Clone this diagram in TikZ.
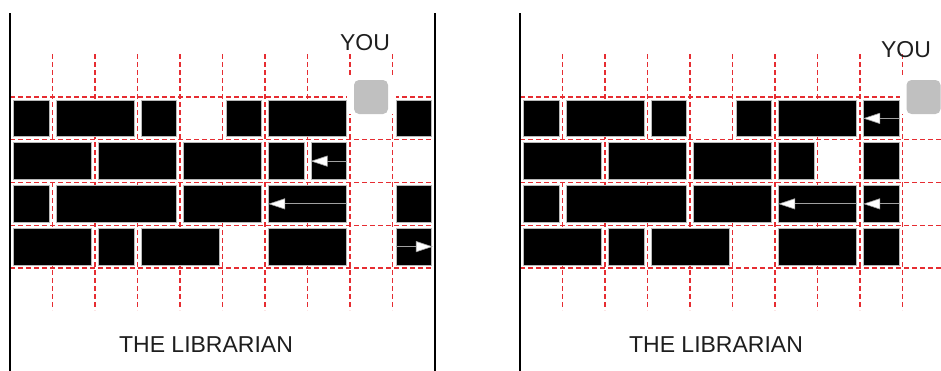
\documentclass[tikz,border=0pt]{standalone}
\usepackage{fontspec}
\setmainfont{Liberation Sans}
\usetikzlibrary{arrows.meta}
\definecolor{gridred}{RGB}{230,45,50}
\definecolor{brickedge}{RGB}{185,185,185}
\definecolor{arrgray}{RGB}{160,160,160}
\definecolor{playergray}{RGB}{192,192,192}
\definecolor{txtgray}{RGB}{30,30,30}
\tikzset{
  gridline/.style={draw=gridred, line width=1.4pt, dash pattern=on 5pt off 3pt},
  brick/.style={draw=brickedge, fill=black, line width=0.8pt, inner sep=0pt, minimum height=36.75pt},
  wall/.style={draw=black, line width=2pt},
  arr/.style={draw=arrgray, line width=1pt, -{Triangle[length=17pt,width=11pt,fill=white,line width=0.6pt]}},
  lbl/.style={text=txtgray, font=\fontsize{23}{23}\selectfont, inner sep=0pt},
  halo/.style={fill=white, draw=none},
  player/.style={fill=playergray, draw=none, rounded corners=5pt}
}
\newcommand\mkbrick[5]{%
  \pgfmathsetmacro\bw{42.5*(#4-#3+1)-7}%
  \pgfmathsetmacro\bcx{#2+42.5*(#3+#4+1)/2}%
  \pgfmathsetmacro\bcy{97+42.75*(#5+0.5)}%
  \node[brick, minimum width=\bw pt] (#1) at (\bcx,\bcy) {};%
}
\begin{document}
\begin{tikzpicture}[x=1pt, y=-1pt]
\useasboundingbox (0,0) rectangle (941,370);
\clip (0,0) rectangle (941,370);
% grids
\foreach \ox/\xe in {10/435, 520/950} {
  \foreach \k in {0,...,4} \draw[gridline] (\ox, 97+42.75*\k) -- (\xe, 97+42.75*\k);
  \foreach \k in {1,...,9} \draw[gridline] (\ox+42.5*\k, 54) -- (\ox+42.5*\k, 310);
}
% player squares with white halo
\fill[halo] (347,78) rectangle (396,114);
\draw[player] (354,80) rectangle (388,114);
\fill[halo] (899.5,78) rectangle (948.5,114);
\draw[player] (906.5,80) rectangle (940.5,114);
% left bricks
\mkbrick{La1}{10}{0}{0}{0}
\mkbrick{La2}{10}{1}{2}{0}
\mkbrick{La3}{10}{3}{3}{0}
\mkbrick{La4}{10}{5}{5}{0}
\mkbrick{La5}{10}{6}{7}{0}
\mkbrick{La6}{10}{9}{9}{0}
\mkbrick{Lb1}{10}{0}{1}{1}
\mkbrick{Lb2}{10}{2}{3}{1}
\mkbrick{Lb3}{10}{4}{5}{1}
\mkbrick{Lb4}{10}{6}{6}{1}
\mkbrick{Lb5}{10}{7}{7}{1}
\mkbrick{Lc1}{10}{0}{0}{2}
\mkbrick{Lc2}{10}{1}{3}{2}
\mkbrick{Lc3}{10}{4}{5}{2}
\mkbrick{Lc4}{10}{6}{7}{2}
\mkbrick{Lc5}{10}{9}{9}{2}
\mkbrick{Ld1}{10}{0}{1}{3}
\mkbrick{Ld2}{10}{2}{2}{3}
\mkbrick{Ld3}{10}{3}{4}{3}
\mkbrick{Ld4}{10}{6}{7}{3}
\mkbrick{Ld5}{10}{9}{9}{3}
% right bricks
\mkbrick{Ra1}{520}{0}{0}{0}
\mkbrick{Ra2}{520}{1}{2}{0}
\mkbrick{Ra3}{520}{3}{3}{0}
\mkbrick{Ra4}{520}{5}{5}{0}
\mkbrick{Ra5}{520}{6}{7}{0}
\mkbrick{Ra6}{520}{8}{8}{0}
\mkbrick{Rb1}{520}{0}{1}{1}
\mkbrick{Rb2}{520}{2}{3}{1}
\mkbrick{Rb3}{520}{4}{5}{1}
\mkbrick{Rb4}{520}{6}{6}{1}
\mkbrick{Rb5}{520}{8}{8}{1}
\mkbrick{Rc1}{520}{0}{0}{2}
\mkbrick{Rc2}{520}{1}{3}{2}
\mkbrick{Rc3}{520}{4}{5}{2}
\mkbrick{Rc4}{520}{6}{7}{2}
\mkbrick{Rc5}{520}{8}{8}{2}
\mkbrick{Rd1}{520}{0}{1}{3}
\mkbrick{Rd2}{520}{2}{2}{3}
\mkbrick{Rd3}{520}{3}{4}{3}
\mkbrick{Rd4}{520}{6}{7}{3}
\mkbrick{Rd5}{520}{8}{8}{3}
% arrows
\draw[arr] (Lb5.east) -- (Lb5.west);
\draw[arr] (Lc4.east) -- (Lc4.west);
\draw[arr] (Ld5.west) -- ([xshift=1pt]Ld5.east);
\draw[arr] (Ra6.east) -- (Ra6.west);
\draw[arr] (Rc4.east) -- (Rc4.west);
\draw[arr] (Rc5.east) -- (Rc5.west);
% walls
\draw[wall] (10,13) -- (10,372);
\draw[wall] (435,13) -- (435,372);
\draw[wall] (520,13) -- (520,372);
% labels
\node[lbl, anchor=base] (youL) at (365,50) {YOU};
\node[lbl, anchor=base] (youR) at (906,57) {YOU};
\node[lbl, anchor=base] (libL) at (206,352) {THE LIBRARIAN};
\node[lbl, anchor=base] (libR) at (716,352) {THE LIBRARIAN};
\end{tikzpicture}
\end{document}
